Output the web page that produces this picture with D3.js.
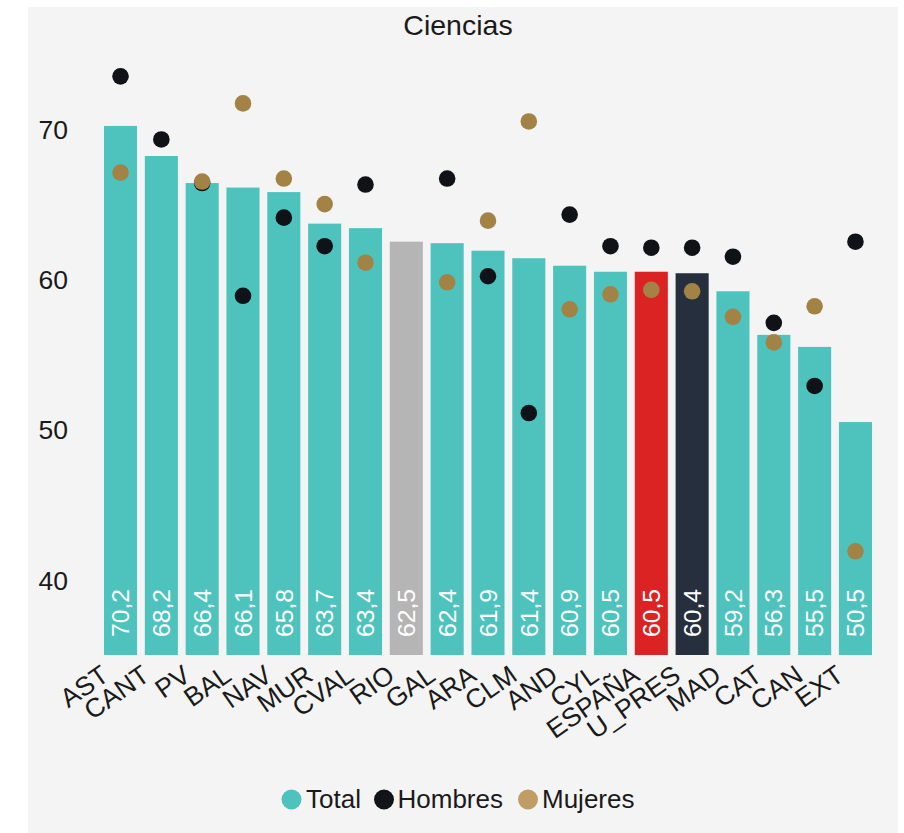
<!DOCTYPE html>
<html>
<head>
<meta charset="utf-8">
<script src="https://cdn.jsdelivr.net/npm/d3@7"></script>
<style>
  html, body { margin: 0; padding: 0; background: #ffffff; }
  svg { display: block; font-family: "Liberation Sans", Arial, Helvetica, sans-serif; }
</style>
</head>
<body>
<svg id="chart" width="904" height="833"></svg>
<script>
const categories = ["AST","CANT","PV","BAL","NAV","MUR","CVAL","RIO","GAL","ARA","CLM","AND","CYL","ESPAÑA","U_PRES","MAD","CAT","CAN","EXT"];
const total   = [70.2,68.2,66.4,66.1,65.8,63.7,63.4,62.5,62.4,61.9,61.4,60.9,60.5,60.5,60.4,59.2,56.3,55.5,50.5];
const hombres = [73.5,69.3,66.4,58.9,64.1,62.2,66.3,null,66.7,60.2,51.1,64.3,62.2,62.1,62.1,61.5,57.1,52.9,62.5];
const mujeres = [67.1,null,66.5,71.7,66.7,65.0,61.1,null,59.8,63.9,70.5,58.0,59.0,59.3,59.2,57.5,55.8,58.2,41.9];
const yTicks = [40, 50, 60, 70];
const seriesNames = ["Total", "Hombres", "Mujeres"];
const title = "Ciencias";

const colors = { Total: "#4EC3BE", Hombres: "#0F1318", Mujeres: "#A38245" };
const legendColors = { Total: "#4EC3BE", Hombres: "#111418", Mujeres: "#BF9D65" };
const highlight = { RIO: "#B5B5B5", "ESPAÑA": "#DC2323", U_PRES: "#262F3E" };

const svg = d3.select("#chart");

// panel background
svg.append("rect").attr("x", 28).attr("y", 7).attr("width", 870).attr("height", 826).attr("fill", "#F4F4F4");

const x = d3.scaleBand().domain(categories).range([100.1, 100.1 + 19 * 40.83]).paddingInner(0.19).paddingOuter(0.095);
const y = d3.scaleLinear().domain([35, 75]).range([655, 655 - 40 * 15.03]);

const rows = categories.map((c, i) => ({ c, t: total[i], h: hombres[i], m: mujeres[i] }));
const fmt = v => d3.format(".1f")(v).replace(".", ",");

// title
svg.append("text").attr("x", 458).attr("y", 35).attr("text-anchor", "middle")
  .attr("font-size", 28.5).attr("fill", "#1a1a1a").text(title);

// y axis
const yAxis = d3.axisLeft(y).tickValues(yTicks).tickSize(0).tickPadding(0);
const yg = svg.append("g").attr("transform", "translate(68,0)").call(yAxis);
yg.select(".domain").remove();
yg.selectAll("text").attr("font-size", 26.5).attr("fill", "#1a1a1a")
  .attr("font-family", "Liberation Sans, Arial, sans-serif").attr("dy", "0.35em");

// bars
svg.append("g").selectAll("rect").data(rows).join("rect")
  .attr("x", d => x(d.c)).attr("width", x.bandwidth())
  .attr("y", d => y(d.t)).attr("height", d => y(35) - y(d.t))
  .attr("fill", d => highlight[d.c] || colors.Total);

// bar value labels
svg.append("g").selectAll("text").data(rows).join("text")
  .attr("transform", d => `translate(${x(d.c) + x.bandwidth() / 2 + 8.7},${y(35) - 18}) rotate(-90)`)
  .attr("text-anchor", "start").attr("font-size", 24.7).attr("fill", "#ffffff")
  .text(d => fmt(d.t));

// x axis labels
const xAxis = d3.axisBottom(x).tickSize(0).tickPadding(0);
const xg = svg.append("g").call(xAxis);
xg.select(".domain").remove();
xg.selectAll(".tick").attr("transform", null);
xg.selectAll(".tick text")
  .attr("transform", d => `translate(${x(d) + x.bandwidth() / 2 - 10},${679}) rotate(-35)`)
  .attr("x", 0).attr("y", 0).attr("dy", 0)
  .attr("text-anchor", "end").attr("font-size", 26.5).attr("fill", "#1a1a1a")
  .attr("font-family", "Liberation Sans, Arial, sans-serif");

// dots
const dotG = svg.append("g");
dotG.selectAll("circle.h").data(rows.filter(d => d.h != null)).join("circle").attr("class", "h")
  .attr("cx", d => x(d.c) + x.bandwidth() / 2).attr("cy", d => y(d.h)).attr("r", 8.3)
  .attr("fill", colors.Hombres);
dotG.selectAll("circle.m").data(rows.filter(d => d.m != null)).join("circle").attr("class", "m")
  .attr("cx", d => x(d.c) + x.bandwidth() / 2).attr("cy", d => y(d.m)).attr("r", 8.3)
  .attr("fill", colors.Mujeres);

// legend
const legendPos = [{ cx: 291.5, tx: 306 }, { cx: 384, tx: 397.5 }, { cx: 528, tx: 542 }];
const lg = svg.append("g");
seriesNames.forEach((s, i) => {
  lg.append("circle").attr("cx", legendPos[i].cx).attr("cy", 799.5).attr("r", 10).attr("fill", legendColors[s]);
  lg.append("text").attr("x", legendPos[i].tx).attr("y", 808).attr("font-size", 26).attr("fill", "#1a1a1a").text(s);
});
</script>
</body>
</html>
